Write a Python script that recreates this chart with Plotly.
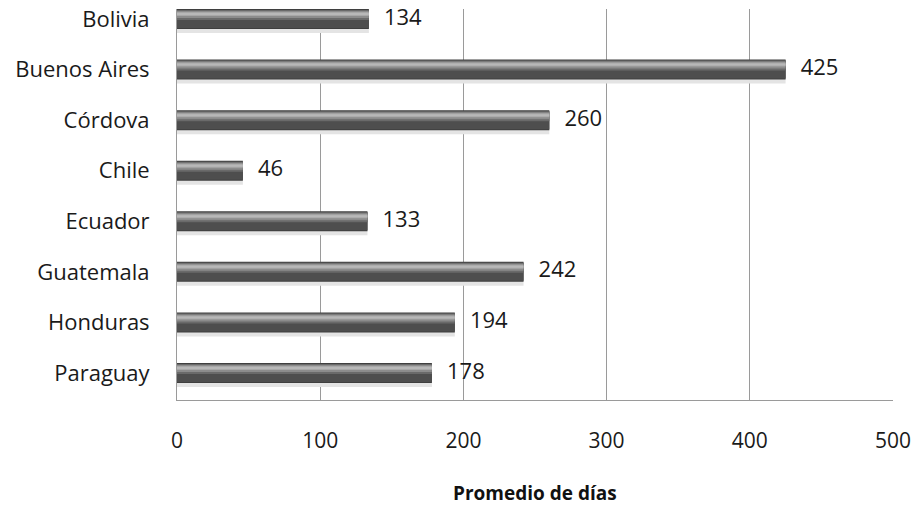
import plotly.graph_objects as go

categories = ["Bolivia", "Buenos Aires", "Córdova", "Chile", "Ecuador", "Guatemala", "Honduras", "Paraguay"]
values = [134, 425, 260, 46, 133, 242, 194, 178]
x_ticks = [0, 100, 200, 300, 400, 500]
x_title = "Promedio de días"

FONT = "Open Sans"
UNIT = 50.6  # px per category

def px(v):
    return v / UNIT

# layered stripes to mimic the cylindrical gradient: (top px from bar top, height px, color)
stripes = [
    (3, 21, "#e4e4e4"),   # soft shadow below
    (0, 20, "#3f3f3f"),   # base / outline
    (1, 18, "#4e4e4e"),
    (1, 10, "#6a6a6a"),
    (2, 7, "#8c8c8c"),
    (3, 4, "#a8a8a8"),
    (4, 2, "#b8b8b8"),
]

fig = go.Figure()
for top, h, col in stripes:
    fig.add_trace(go.Bar(
        y=categories, x=values, orientation="h",
        width=px(h), offset=px(top) - px(10),
        marker=dict(color=col, line=dict(width=0)),
        hoverinfo="skip", showlegend=False,
    ))

fig.add_trace(go.Scatter(
    y=categories, x=values, mode="text",
    text=["  \u2009" + str(v) for v in values], textposition="middle right",
    textfont=dict(family=FONT, size=22, color="#1a1a1a"),
    hoverinfo="skip", showlegend=False, cliponaxis=False,
))

fig.update_layout(
    width=918, height=508,
    margin=dict(l=177, r=25, t=9, b=108),
    barmode="overlay",
    plot_bgcolor="white", paper_bgcolor="white",
    font=dict(family=FONT, size=22, color="#1a1a1a"),
    xaxis=dict(
        range=[0, 500], tickvals=x_ticks, ticktext=[str(t) for t in x_ticks],
        showgrid=True, gridcolor="#9a9a9a", gridwidth=1,
        showline=True, linecolor="#9a9a9a", linewidth=1,
        zeroline=False, ticks="", ticklabelstandoff=22, automargin=False,
        tickfont=dict(family=FONT, size=21, color="#1a1a1a"),
    ),
    yaxis=dict(
        categoryorder="array", categoryarray=categories,
        range=[7 + 27 / UNIT, -10 / UNIT],
        showgrid=False, showline=True, linecolor="#9a9a9a", linewidth=1,
        zeroline=False, ticks="", ticklabelstandoff=22, automargin=False,
        tickfont=dict(family=FONT, size=22, color="#1a1a1a"),
    ),
    annotations=[dict(
        text="<b>" + x_title + "</b>", xref="paper", yref="paper",
        x=0.5, y=0, yshift=-93, xanchor="center", yanchor="middle",
        showarrow=False, font=dict(family=FONT, size=19, color="#111111"),
    )],
)

fig.write_html("out.html")
